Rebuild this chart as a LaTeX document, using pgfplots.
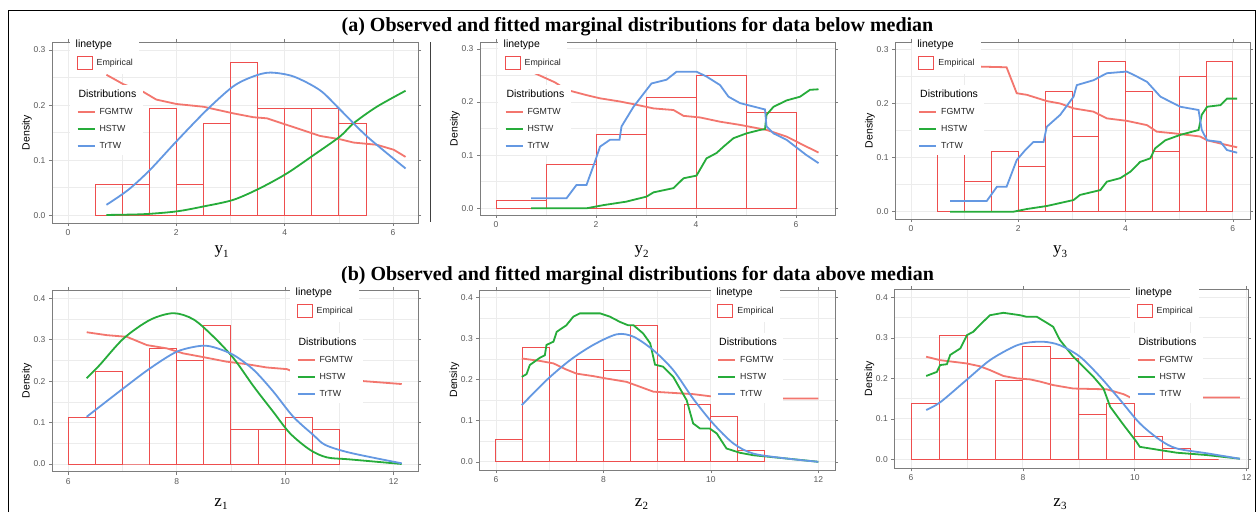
\documentclass[border=0pt]{standalone}
\usepackage{pgfplots}
\pgfplotsset{compat=1.18}
\usepackage{fontspec}
\setmainfont{Liberation Sans}
\newfontfamily\ttlf{Liberation Serif}

\definecolor{empred}{RGB}{238,78,78}
\definecolor{fgm}{RGB}{243,118,110}
\definecolor{hst}{RGB}{38,172,58}
\definecolor{trb}{RGB}{100,152,226}
\definecolor{framec}{RGB}{125,125,125}
\definecolor{gridc}{RGB}{236,236,236}
\definecolor{tlab}{RGB}{90,90,90}

\pgfplotsset{
  gg/.style={
    scale only axis, anchor=south west,
    axis line style={draw=framec, line width=0.8pt},
    tick align=outside, major tick length=3pt, minor tick length=0pt,
    tick style={draw=framec, line width=0.6pt},
    grid=both,
    major grid style={draw=gridc, line width=0.9pt},
    minor grid style={draw=gridc, line width=0.5pt},
    minor x tick num=1, minor y tick num=1,
    tick label style={font=\fontsize{8.5}{9}\selectfont, text=tlab},
    /pgf/number format/assume math mode=true,
    yticklabel style={/pgf/number format/fixed, /pgf/number format/fixed zerofill,
      /pgf/number format/precision=1},
    ylabel={Density},
    every axis y label/.style={at={(axis description cs:0,0.5)}, xshift=-25pt,
      rotate=90, anchor=center, font=\fontsize{10.5}{11}\selectfont},
  },
  top/.style={gg, xtick={0,2,4,6}, ytick={0,0.1,0.2,0.3}},
  bot/.style={gg, xtick={6,8,10,12}, ytick={0,0.1,0.2,0.3,0.4}},
  hist/.style={ybar, bar shift=0pt, bar width=#1, draw=empred, fill=none, line width=0.95pt},
  hist/.default=0.5,
  cf/.style={fgm, line width=1.8pt, mark=none},
  ch/.style={hst, line width=1.8pt, mark=none},
  ct/.style={trb, line width=1.8pt, mark=none},
  boxkey/.style={legend image code/.code={\draw[##1] (0pt,-6.5pt) rectangle (15pt,6.5pt);}},
  linekey/.style={legend image code/.code={\draw[##1] (0pt,0pt) -- (17pt,0pt);}},
  legax/.style={anchor=north west, scale only axis, width=5pt, height=5pt,
    hide axis, xmin=0, xmax=1, ymin=0, ymax=1, legend cell align=left,
    legend style={at={(0,1)}, anchor=north west, draw=none, fill=white,
      inner xsep=6.5pt, inner ysep=4pt, row sep=6pt, column sep=4pt,
      font=\fontsize{8.8}{10}\selectfont, text=black!85,
      nodes={inner sep=0pt, text height=8pt, text depth=3pt}}},
}
\newcommand\ltitle{\fontsize{10.5}{12}\selectfont\color{black}}
% legend boxes: x, top of linetype box, top of Distributions box (all pt)
\newcommand\gglegends[3]{%
  \begin{axis}[legax, at={(#1pt,#2pt)}]
    \addlegendimage{empty legend}\addlegendentry{\hspace*{-21pt}\ltitle linetype}
    \addlegendimage{empred, line width=1pt, boxkey}
    \addlegendentry{Empirical}
  \end{axis}
  \begin{axis}[legax, at={(#1pt,#3pt)}]
    \addlegendimage{empty legend}\addlegendentry{\hspace*{-21pt}\ltitle Distributions}
    \addlegendimage{fgm, line width=1.8pt, linekey}
    \addlegendentry{FGMTW}
    \addlegendimage{hst, line width=1.8pt, linekey}
    \addlegendentry{HSTW}
    \addlegendimage{trb, line width=1.8pt, linekey}
    \addlegendentry{TrTW}
  \end{axis}}
\newcommand\xlab[3]{\node[anchor=base] at (#1,#2) {\ttlf\fontsize{17}{17}\selectfont #3};}

\begin{document}
\begin{tikzpicture}[x=1pt,y=1pt]
\useasboundingbox (0,0) rectangle (1258,512);
\fill[white] (0,0) rectangle (1258,512);
\draw[black, line width=1pt] (8.5,0) -- (8.5,501.5) -- (1255.5,501.5) -- (1255.5,0);
\draw[black!75, line width=0.8pt] (430,290) -- (430,470);

\node[anchor=base] at (637.5,480.3) {\ttlf\bfseries\fontsize{20}{22}\selectfont (a) Observed and fitted marginal distributions for data below median};
\node[anchor=base] at (637.5,232) {\ttlf\bfseries\fontsize{20}{22}\selectfont (b) Observed and fitted marginal distributions for data above median};

% ---------- y1
\begin{axis}[top, at={(52pt,289pt)}, width=366pt, height=181pt,
  xmin=-0.295, xmax=6.46, ymin=-0.014, ymax=0.3145]
\addplot[hist] coordinates {(0.75,0.0556) (1.25,0.0556) (1.75,0.1944) (2.25,0.0556) (2.75,0.1667) (3.25,0.2778) (3.75,0.1944) (4.25,0.1944) (4.75,0.1944) (5.25,0.1667)};
\addplot[cf] coordinates {(0.71,0.255) (1.02,0.238) (1.39,0.224) (1.63,0.21) (2.0,0.202) (2.5,0.197) (3.05,0.185) (3.42,0.178) (3.67,0.176) (4.04,0.164) (4.41,0.152) (4.65,0.144) (5.02,0.138) (5.27,0.132) (5.70,0.128) (6.01,0.119) (6.23,0.106)};
\addplot[ch, smooth] coordinates {(0.71,0.0006) (1.39,0.002) (2.0,0.007) (2.5,0.016) (3.05,0.028) (3.54,0.049) (4.04,0.076) (4.53,0.109) (5.02,0.143) (5.27,0.167) (5.70,0.197) (6.23,0.226)};
\addplot[ct, smooth] coordinates {(0.71,0.019) (1.11,0.046) (1.51,0.082) (2.0,0.134) (2.56,0.191) (3.05,0.234) (3.42,0.252) (3.73,0.259) (4.16,0.252) (4.65,0.227) (5.02,0.192) (5.52,0.143) (6.23,0.085)};
\end{axis}
\gglegends{70}{477}{427}

% ---------- y2
\begin{axis}[top, at={(480pt,297pt)}, width=355pt, height=173pt,
  xmin=-0.32, xmax=6.78, ymin=-0.0126, ymax=0.313]
\addplot[hist=1] coordinates {(0.5,0.0139) (1.5,0.0833) (2.5,0.1389) (3.5,0.2083) (4.5,0.25) (5.5,0.1806)};
\addplot[cf] coordinates {(0.70,0.259) (0.78,0.254) (1.18,0.237) (1.41,0.223) (1.81,0.213) (2.08,0.207) (2.48,0.201) (2.75,0.196) (3.15,0.188) (3.55,0.185) (3.75,0.174) (4.08,0.171) (4.48,0.163) (4.88,0.157) (5.41,0.1475) (5.81,0.135) (6.21,0.116) (6.45,0.105)};
\addplot[ch] coordinates {(0.70,0) (1.81,0) (2.15,0.006) (2.61,0.0126) (3.01,0.022) (3.15,0.03) (3.55,0.038) (3.75,0.0565) (4.01,0.0615) (4.21,0.094) (4.41,0.104) (4.55,0.116) (4.75,0.132) (5.01,0.141) (5.28,0.1475) (5.38,0.149) (5.41,0.176) (5.55,0.191) (5.81,0.203) (6.08,0.21) (6.28,0.223) (6.45,0.224)};
\addplot[ct] coordinates {(0.70,0.0188) (1.41,0.0188) (1.61,0.044) (1.81,0.044) (1.98,0.088) (2.08,0.116) (2.28,0.129) (2.47,0.129) (2.51,0.154) (2.75,0.191) (2.88,0.207) (3.11,0.235) (3.41,0.242) (3.61,0.257) (4.01,0.257) (4.21,0.248) (4.48,0.232) (4.65,0.210) (4.88,0.198) (5.38,0.186) (5.41,0.154) (5.55,0.141) (5.81,0.129) (6.21,0.100) (6.45,0.085)};
\end{axis}
\gglegends{498}{477}{427}

% ---------- y3
\begin{axis}[top, at={(895pt,293pt)}, width=355pt, height=177pt,
  xmin=-0.3, xmax=6.32, ymin=-0.0135, ymax=0.3137]
\addplot[hist] coordinates {(0.75,0.1389) (1.25,0.0556) (1.75,0.1111) (2.25,0.0833) (2.75,0.2222) (3.25,0.1389) (3.75,0.2778) (4.25,0.2222) (4.75,0.1111) (5.25,0.25) (5.75,0.2778)};
\addplot[cf] coordinates {(0.73,0.27) (1.35,0.268) (1.78,0.267) (1.97,0.219) (2.16,0.216) (2.53,0.2045) (2.78,0.200) (3.03,0.191) (3.40,0.185) (3.65,0.1725) (4.02,0.168) (4.40,0.160) (4.58,0.148) (4.89,0.145) (5.39,0.139) (5.52,0.132) (5.77,0.126) (6.08,0.119)};
\addplot[ch] coordinates {(0.73,0) (1.91,0) (2.16,0.005) (2.53,0.0105) (3.03,0.0216) (3.15,0.031) (3.53,0.040) (3.65,0.0555) (3.90,0.062) (4.09,0.074) (4.27,0.092) (4.46,0.0986) (4.55,0.117) (4.74,0.132) (5.02,0.142) (5.36,0.151) (5.42,0.179) (5.52,0.194) (5.77,0.197) (5.89,0.209) (6.08,0.209)};
\addplot[ct] coordinates {(0.73,0.0197) (1.41,0.0197) (1.60,0.046) (1.78,0.046) (1.97,0.0955) (2.13,0.114) (2.28,0.129) (2.47,0.129) (2.53,0.157) (2.78,0.179) (3.03,0.2126) (3.09,0.234) (3.40,0.243) (3.65,0.256) (4.02,0.259) (4.15,0.253) (4.40,0.240) (4.65,0.2126) (5.02,0.194) (5.36,0.188) (5.42,0.151) (5.52,0.132) (5.77,0.129) (5.89,0.114) (6.08,0.109)};
\end{axis}
\gglegends{911.7}{477}{427}

% ---------- z1
\begin{axis}[bot, at={(52pt,40.3pt)}, width=366pt, height=181.7pt,
  xmin=5.70, xmax=12.45, ymin=-0.0186, ymax=0.42]
\addplot[hist] coordinates {(6.25,0.1111) (6.75,0.2222) (7.25,0) (7.75,0.2778) (8.25,0.25) (8.75,0.3333) (9.25,0.0833) (9.75,0.0833) (10.25,0.1111) (10.75,0.0833)};
\addplot[cf] coordinates {(6.34,0.318) (6.71,0.311) (7.08,0.307) (7.45,0.287) (7.82,0.279) (8.12,0.267) (8.49,0.258) (8.92,0.247) (9.29,0.241) (9.66,0.233) (10.03,0.229) (10.3,0.215) (11.45,0.2) (12.15,0.193)};
\addplot[ch, smooth] coordinates {(6.34,0.207) (6.58,0.239) (7.02,0.303) (7.51,0.348) (7.94,0.364) (8.31,0.349) (8.68,0.307) (9.05,0.255) (9.42,0.187) (9.78,0.126) (10.09,0.074) (10.46,0.034) (10.77,0.016) (11.2,0.011) (12.15,0.0)};
\addplot[ct, smooth] coordinates {(6.34,0.114) (7.02,0.183) (7.51,0.231) (8.0,0.271) (8.43,0.285) (8.68,0.282) (9.05,0.263) (9.42,0.227) (9.78,0.175) (10.15,0.114) (10.52,0.070) (10.74,0.046) (11.2,0.027) (12.15,0.0016)};
\end{axis}
\gglegends{290}{229}{179}

% ---------- z2
\begin{axis}[bot, at={(479.3pt,42pt)}, width=355.7pt, height=180pt,
  xmin=5.69, xmax=12.31, ymin=-0.02, ymax=0.419]
\addplot[hist] coordinates {(6.25,0.0556) (6.75,0.2778) (7.25,0) (7.75,0.25) (8.25,0.2222) (8.75,0.3333) (9.25,0.0556) (9.75,0.1389) (10.25,0.1111) (10.75,0.0278)};
\addplot[cf] coordinates {(6.48,0.252) (6.82,0.246) (7.07,0.240) (7.31,0.225) (7.50,0.215) (7.81,0.209) (8.06,0.203) (8.43,0.195) (8.68,0.183) (8.93,0.171) (9.30,0.168) (9.67,0.165) (9.98,0.160) (10.5,0.157) (11.29,0.1545) (12.0,0.1545)};
\addplot[ch] coordinates {(6.48,0.207) (6.57,0.214) (6.63,0.236) (6.82,0.254) (6.91,0.26) (6.94,0.285) (7.07,0.293) (7.13,0.317) (7.31,0.333) (7.44,0.354) (7.56,0.362) (7.94,0.362) (8.12,0.354) (8.31,0.341) (8.46,0.333) (8.56,0.333) (8.74,0.313) (8.87,0.289) (8.96,0.237) (9.11,0.232) (9.30,0.207) (9.55,0.150) (9.67,0.0935) (9.80,0.081) (9.98,0.081) (10.11,0.069) (10.29,0.0325) (10.54,0.022) (10.79,0.016) (11.41,0.008) (12.0,0)};
\addplot[ct, smooth] coordinates {(6.48,0.138) (6.94,0.199) (7.38,0.248) (7.81,0.285) (8.25,0.311) (8.56,0.305) (8.93,0.272) (9.30,0.2236) (9.67,0.154) (10.04,0.0935) (10.42,0.0447) (10.79,0.020) (11.41,0.008) (12.0,0)};
\end{axis}
\gglegends{710.7}{229}{179}

% ---------- z3
\begin{axis}[bot, at={(894.3pt,43.7pt)}, width=354pt, height=179pt,
  xmin=5.70, xmax=12.03, ymin=-0.022, ymax=0.42]
\addplot[hist] coordinates {(6.25,0.1389) (6.75,0.3056) (7.25,0) (7.75,0.1944) (8.25,0.2778) (8.75,0.25) (9.25,0.1111) (9.75,0.1389) (10.25,0.0556) (10.75,0.0278) (11.25,0)};
\addplot[cf] coordinates {(6.27,0.2535) (6.52,0.245) (6.99,0.237) (7.23,0.230) (7.41,0.2205) (7.65,0.206) (7.89,0.200) (8.13,0.1975) (8.31,0.192) (8.54,0.1835) (8.90,0.175) (9.50,0.173) (9.80,0.161) (9.92,0.153) (11.2,0.153) (11.88,0.153)};
\addplot[ch] coordinates {(6.27,0.206) (6.46,0.216) (6.52,0.233) (6.64,0.235) (6.70,0.258) (6.88,0.274) (7.0,0.307) (7.11,0.315) (7.29,0.34) (7.41,0.356) (7.65,0.362) (7.95,0.356) (8.07,0.352) (8.25,0.352) (8.43,0.337) (8.54,0.3275) (8.66,0.295) (8.90,0.2535) (9.26,0.204) (9.44,0.175) (9.56,0.130) (9.80,0.085) (10.03,0.0436) (10.09,0.031) (10.45,0.023) (10.75,0.0165) (11.29,0.0107) (11.88,0.0016)};
\addplot[ct, smooth] coordinates {(6.27,0.122) (6.52,0.141) (6.99,0.196) (7.41,0.245) (7.83,0.278) (8.07,0.288) (8.37,0.2905) (8.66,0.282) (9.02,0.2535) (9.38,0.204) (9.74,0.1465) (10.09,0.089) (10.45,0.048) (10.75,0.027) (11.29,0.015) (11.88,0.0016)};
\end{axis}
\gglegends{1130}{229}{179}

\xlab{221.5}{258}{y\raisebox{-3pt}{\fontsize{11}{11}\selectfont 1}}
\xlab{641.5}{258}{y\raisebox{-3pt}{\fontsize{11}{11}\selectfont 2}}
\xlab{1060}{258}{y\raisebox{-3pt}{\fontsize{11}{11}\selectfont 3}}
\xlab{221}{6}{z\raisebox{-3pt}{\fontsize{11}{11}\selectfont 1}}
\xlab{641.5}{6}{z\raisebox{-3pt}{\fontsize{11}{11}\selectfont 2}}
\xlab{1060}{6}{z\raisebox{-3pt}{\fontsize{11}{11}\selectfont 3}}
\end{tikzpicture}
\end{document}
